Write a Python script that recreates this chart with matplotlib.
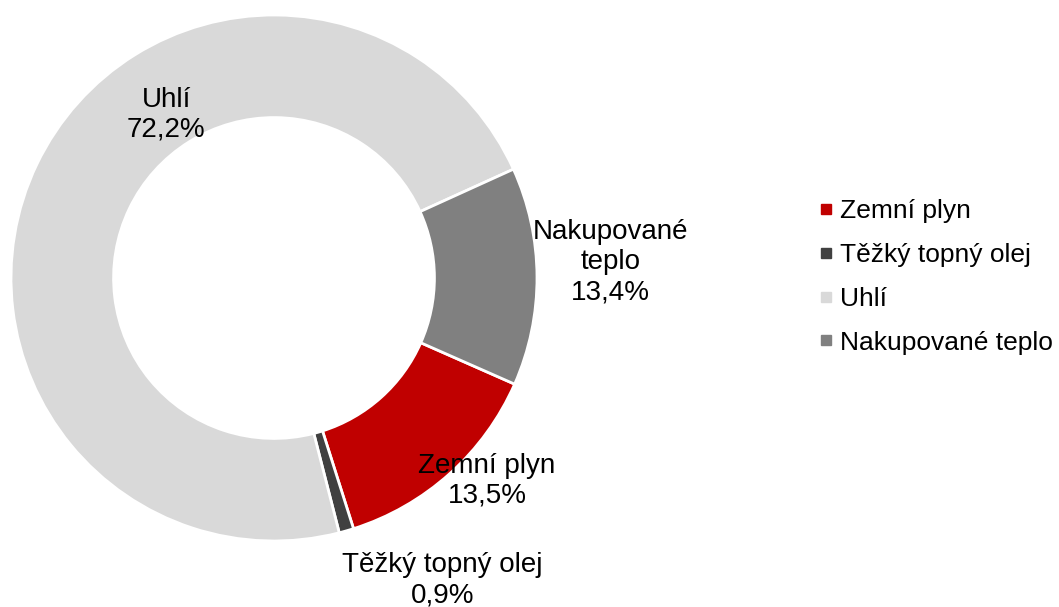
import matplotlib.pyplot as plt
from matplotlib.lines import Line2D

plt.rcParams['font.family'] = ['Liberation Sans', 'DejaVu Sans']

# Data
labels = ["Zemní plyn", "Těžký topný olej", "Uhlí", "Nakupované teplo"]
shares = [13.5, 0.9, 72.2, 13.4]
colors = ["#C00000", "#404040", "#D9D9D9", "#808080"]
text_labels = ["Zemní plyn\n13,5%", "Těžký topný olej\n0,9%", "Uhlí\n72,2%", "Nakupované\nteplo\n13,4%"]
# label positions (data coords, radius = 1)
label_pos = [(0.81, -0.77), (0.64, -1.15), (-0.41, 0.62), (1.28, 0.06)]

fig = plt.figure(figsize=(10.59, 6.07), dpi=100)
W, H = 1059, 607
cx, cy, r = 274, 278, 263
ax = fig.add_axes([(cx - r) / W, (H - cy - r) / H, 2 * r / W, 2 * r / H])

wedges, _ = ax.pie(shares, colors=colors, startangle=-23.8, counterclock=False,
                   radius=1.0,
                   wedgeprops=dict(width=0.39, edgecolor="white", linewidth=2))
ax.set_xlim(-1, 1)
ax.set_ylim(-1, 1)
ax.set_aspect("equal")
ax.axis("off")

for txt, (x, y) in zip(text_labels, label_pos):
    ax.text(x, y, txt, ha="center", va="center", multialignment="center",
            fontsize=20, color="black", linespacing=1.2)

handles = [Line2D([], [], marker="s", linestyle="none", markersize=7,
                  markerfacecolor=c, markeredgecolor=c) for c in colors]
fig.legend(handles, labels, loc="center left", bbox_to_anchor=(818 / W, 1 - 277 / H),
           frameon=False, fontsize=19, handlelength=0.6, handletextpad=0.25,
           labelspacing=0.75, borderaxespad=0, borderpad=0)

fig.savefig("out.png", dpi=100)
